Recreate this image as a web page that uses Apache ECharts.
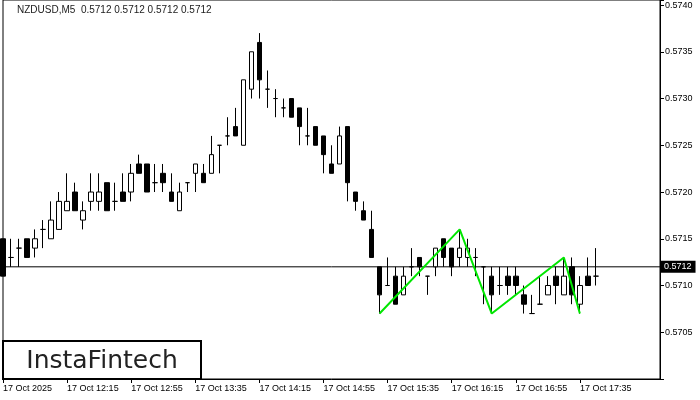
<!DOCTYPE html>
<html>
<head>
<meta charset="utf-8">
<script src="https://cdn.jsdelivr.net/npm/echarts@6/dist/echarts.min.js"></script>
<style>
	html,body{margin:0;padding:0;background:#fff;}
	#chart{width:700px;height:400px;}
</style>
</head>
<body>
<div id="chart"></div>
<script>
// 5 minute bars, 11:35 .. 17:45
const barTimes = ['11:35','11:40','11:45','11:50','11:55','12:00','12:05','12:10','12:15','12:20',
	'12:25','12:30','12:35','12:40','12:45','12:50','12:55','13:00','13:05','13:10',
	'13:15','13:20','13:25','13:30','13:35','13:40','13:45','13:50','13:55','14:00',
	'14:05','14:10','14:15','14:20','14:25','14:30','14:35','14:40','14:45','14:50',
	'14:55','15:00','15:05','15:10','15:15','15:20','15:25','15:30','15:35','15:40',
	'15:45','15:50','15:55','16:00','16:05','16:10','16:15','16:20','16:25','16:30',
	'16:35','16:40','16:45','16:50','16:55','17:00','17:05','17:10','17:15','17:20',
	'17:25','17:30','17:35','17:40','17:45']
const emptySlots = 8
const tickLabels = ['17 Oct 2025','17 Oct 12:15','17 Oct 12:55','17 Oct 13:35','17 Oct 14:15',
	'17 Oct 14:55','17 Oct 15:35','17 Oct 16:15','17 Oct 16:55','17 Oct 17:35']

const opens = [0.5715,0.5713,0.5714,0.5715,0.5714,0.5716,0.5715,0.5716,0.5718,0.5720,
	0.5717,0.5719,0.5719,0.5721,0.5719,0.5720,0.5720,0.5723,0.5723,0.5721,
	0.5722,0.5720,0.5718,0.5721,0.5722,0.5722,0.5722,0.5725,0.5726,0.5727,
	0.5725,0.5731,0.5736,0.5731,0.5730,0.5729,0.5730,0.5729,0.5726,0.5727,
	0.5726,0.5723,0.5723,0.5727,0.5720,0.5718,0.5716,0.5712,0.5710,0.5711,
	0.5709,0.5712,0.5713,0.5711,0.5712,0.5715,0.5714,0.5713,0.5713,0.5713,
	0.5712,0.5711,0.5710,0.5711,0.5711,0.5709,0.5707,0.5708,0.5709,0.5711,
	0.5709,0.5712,0.5708,0.5711,0.5711]
const closes = [0.5711,0.5713,0.5714,0.5713,0.5715,0.5716,0.5717,0.5719,0.5719,0.5718,
	0.5718,0.5720,0.5720,0.5718,0.5719,0.5719,0.5722,0.5722,0.5720,0.5721,
	0.5721,0.5719,0.5720,0.5721,0.5723,0.5721,0.5724,0.5725,0.5726,0.5726,
	0.5732,0.5735,0.5732,0.5731,0.5730,0.5729,0.5728,0.5727,0.5726,0.5725,
	0.5724,0.5722,0.5726,0.5721,0.5719,0.5717,0.5713,0.5709,0.5710,0.5708,
	0.5711,0.5712,0.5712,0.5711,0.5714,0.5713,0.5712,0.5714,0.5714,0.5713,
	0.5712,0.5709,0.5710,0.5710,0.5710,0.5708,0.5707,0.5708,0.5710,0.5710,
	0.5711,0.5709,0.5710,0.5710,0.5711]
const lows = [0.5711,0.5712,0.5712,0.5713,0.5713,0.5714,0.5715,0.5716,0.5718,0.5718,
	0.5716,0.5718,0.5718,0.5718,0.5718,0.5719,0.5719,0.5722,0.5720,0.5720,
	0.5720,0.5719,0.5718,0.5720,0.5720,0.5721,0.5722,0.5722,0.5725,0.5726,
	0.5725,0.5730,0.5730,0.5729,0.5728,0.5728,0.5728,0.5725,0.5725,0.5725,
	0.5722,0.5722,0.5723,0.5719,0.5718,0.5717,0.5713,0.5707,0.5710,0.5708,
	0.5709,0.5711,0.5711,0.5709,0.5711,0.5712,0.5711,0.5712,0.5712,0.5711,
	0.5708,0.5707,0.5709,0.5709,0.5709,0.5707,0.5707,0.5708,0.5709,0.5708,
	0.5709,0.5708,0.5707,0.5710,0.5710]
const highs = [0.5715,0.5715,0.5715,0.5715,0.5716,0.5717,0.5719,0.5720,0.5722,0.5721,
	0.5719,0.5722,0.5722,0.5721,0.5721,0.5722,0.5723,0.5724,0.5723,0.5723,
	0.5723,0.5722,0.5721,0.5721,0.5723,0.5723,0.5726,0.5725,0.5728,0.5729,
	0.5732,0.5735,0.5737,0.5733,0.5731,0.5730,0.5730,0.5729,0.5729,0.5727,
	0.5726,0.5725,0.5727,0.5727,0.5720,0.5719,0.5718,0.5712,0.5713,0.5712,
	0.5712,0.5714,0.5713,0.5711,0.5714,0.5715,0.5714,0.5716,0.5715,0.5714,
	0.5712,0.5712,0.5712,0.5712,0.5712,0.5710,0.5709,0.5711,0.5711,0.5712,
	0.5713,0.5713,0.5711,0.5713,0.5714]

// triple bottom pattern (bar index, price)
const patternBars = [47, 57, 61, 70, 72]
const patternPrices = [0.5707, 0.5716, 0.5707, 0.5713, 0.5707]

const lastPrice = 0.5712
const symbolTitle = 'NZDUSD,M5'

let categories = barTimes.slice()
for (let i = 0; i < emptySlots; i++) {
	categories.push('')
}
let candles = opens.map((o, i) => [o, closes[i], lows[i], highs[i]])
let lastStr = lastPrice.toFixed(4)
// 刻度只在每8根K线处显示
let showTick = function (idx) { return idx % 8 === 0 && idx / 8 < tickLabels.length }

let myChart = echarts.init(document.getElementById('chart'))
let option = {
	animation: false,
	title: {
		text: symbolTitle + '  ' + [lastStr, lastStr, lastStr, lastStr].join(' '),
		left: 17,
		top: 5,
		padding: 0,
		textStyle: {fontSize: 10, fontWeight: 'normal', color: '#1a1a1a', fontFamily: 'Liberation Sans'}
	},
	grid: {
		left: 3,
		right: 40,
		top: 0,
		bottom: 21,
		show: true,
		borderColor: '#000',
		borderWidth: 1
	},
	xAxis: {
		type: 'category',
		data: categories,
		boundaryGap: false,
		axisLine: {show: true, lineStyle: {color: '#000'}},
		axisTick: {show: true, length: 4, lineStyle: {color: '#000'}, interval: showTick},
		axisLabel: {
			interval: showTick,
			formatter: function (val, idx) { return tickLabels[idx / 8] || '' },
			align: 'left',
			margin: 5,
			color: '#000',
			fontSize: 9,
			fontFamily: 'Liberation Sans'
		},
		splitLine: {show: false}
	},
	yAxis: {
		type: 'value',
		position: 'right',
		min: 0.57,
		max: 0.574054,
		interval: 0.0005,
		axisLine: {show: true, lineStyle: {color: '#000'}},
		axisTick: {show: true, length: 4, lineStyle: {color: '#000'}},
		axisLabel: {
			formatter: function (v) {
				if (v < 0.57049 || v > 0.57401) return ''
				return v.toFixed(4)
			},
			color: '#000',
			fontSize: 9,
			margin: 5,
			fontFamily: 'Liberation Sans'
		},
		splitLine: {show: false}
	},
	series: [
		{
			// 当前价格线
			type: 'line',
			data: [[0, lastPrice], [categories.length - 1, lastPrice]],
			symbol: 'none',
			silent: true,
			lineStyle: {color: '#000', width: 1},
			z: 1,
			endLabel: {
				show: true,
				formatter: lastStr,
				backgroundColor: '#000',
				color: '#fff',
				fontSize: 9,
				fontFamily: 'Liberation Sans',
				padding: [2, 4, 1, 3],
				distance: 1
			}
		},
		{
			type: 'candlestick',
			data: candles,
			barWidth: 5,
			z: 2,
			itemStyle: {
				color: '#fff',
				color0: '#000',
				borderColor: '#000',
				borderColor0: '#000',
				borderColorDoji: '#000',
				borderWidth: 1
			}
		},
		{
			type: 'line',
			data: patternBars.map((k, i) => [k, patternPrices[i]]),
			symbol: 'none',
			lineStyle: {color: '#00e600', width: 2},
			z: 5
		}
	],
	graphic: [
		{
			type: 'rect',
			shape: {x: 3, y: 341, width: 198, height: 38},
			style: {fill: '#fff', stroke: '#000', lineWidth: 2},
			z: 100
		},
		{
			type: 'text',
			x: 102,
			y: 361,
			style: {
				text: 'InstaFintech',
				font: '25px "DejaVu Sans"',
				fill: '#222',
				textAlign: 'center',
				textVerticalAlign: 'middle'
			},
			z: 101
		}
	]
}
myChart.setOption(option)
</script>
</body>
</html>
